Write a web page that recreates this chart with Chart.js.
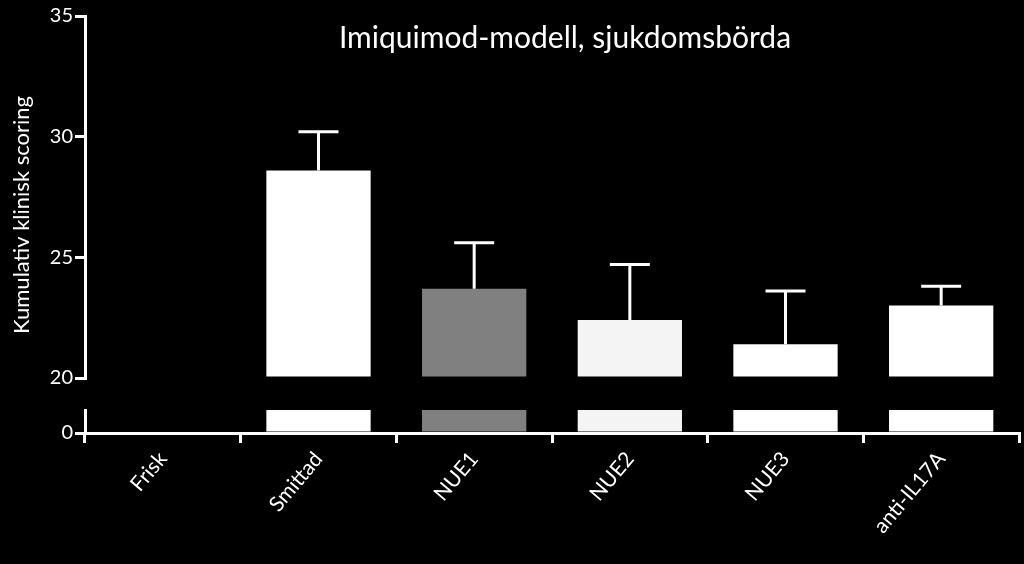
<!DOCTYPE html>
<html>
<head>
<meta charset="utf-8">
<script src="https://cdn.jsdelivr.net/npm/chart.js@4"></script>
<style>
  body { margin: 0; background: #000; width: 1024px; height: 564px; overflow: hidden; }
  #top { position: absolute; left: 0; top: 0; }
  #bottom { position: absolute; left: 0; top: 396px; }
</style>
</head>
<body>
<canvas id="top" width="1024" height="392"></canvas>
<canvas id="bottom" width="1024" height="168"></canvas>
<script>
const categories = ['Frisk', 'Smittad', 'NUE1', 'NUE2', 'NUE3', 'anti-IL17A'];
const means = [null, 28.6, 23.7, 22.4, 21.4, 23.0];
const errorTops = [null, 30.2, 25.6, 24.7, 23.6, 23.8];
const lowerValues = [null, 2, 2, 2, 2, 2];
const barColors = ['#ffffff', '#ffffff', '#808080', '#f4f4f4', '#ffffff', '#ffffff'];
const upperTicks = [20, 25, 30, 35];
const lowerTicks = [0, 2];

const FONT = 'Lato, "Open Sans", sans-serif';
Chart.defaults.font.family = FONT;
Chart.defaults.color = '#ffffff';
Chart.defaults.animation = false;

const axisWidth = 85;

const errorBars = {
  id: 'errorBars',
  afterDatasetsDraw(chart) {
    const { ctx } = chart;
    const meta = chart.getDatasetMeta(0);
    const y = chart.scales.y;
    ctx.save();
    ctx.strokeStyle = '#ffffff';
    ctx.lineWidth = 3;
    meta.data.forEach((bar, i) => {
      if (errorTops[i] == null) return;
      const x = bar.x;
      const yTop = y.getPixelForValue(errorTops[i]);
      ctx.beginPath();
      ctx.moveTo(x, bar.y);
      ctx.lineTo(x, yTop);
      ctx.moveTo(x - 20, yTop);
      ctx.lineTo(x + 20, yTop);
      ctx.stroke();
    });
    ctx.restore();
  }
};

const titleText = {
  id: 'titleText',
  afterDraw(chart) {
    const { ctx } = chart;
    ctx.save();
    ctx.fillStyle = '#ffffff';
    ctx.font = '30px ' + FONT;
    ctx.textAlign = 'center';
    ctx.textBaseline = 'middle';
    ctx.fillText('Imiquimod-modell, sjukdomsbörda', 565, 38);
    ctx.translate(22, 215);
    ctx.rotate(-Math.PI / 2);
    ctx.font = '22px ' + FONT;
    ctx.fillText('Kumulativ klinisk scoring', 0, 0);
    ctx.restore();
  }
};

function yAxis(min, max, ticks) {
  return {
    min: min, max: max,
    afterFit(scale) { scale.width = axisWidth; },
    afterBuildTicks(scale) { scale.ticks = ticks.map(v => ({ value: v })); },
    ticks: { font: { size: 20 }, color: '#ffffff', padding: 2 },
    grid: { drawOnChartArea: false, tickLength: 10, color: '#ffffff', lineWidth: 3 },
    border: { color: '#ffffff', width: 3 }
  };
}

new Chart(document.getElementById('top'), {
  type: 'bar',
  data: {
    labels: categories,
    datasets: [{ data: means, backgroundColor: barColors, barPercentage: 0.67, categoryPercentage: 1, base: 20 }]
  },
  options: {
    responsive: false,
    layout: { padding: { top: 16, bottom: 8, right: 5, left: 0 } },
    plugins: { legend: { display: false }, tooltip: { enabled: false } },
    scales: {
      x: { display: false },
      y: yAxis(20, 35, upperTicks)
    }
  },
  plugins: [errorBars, titleText]
});

new Chart(document.getElementById('bottom'), {
  type: 'bar',
  data: {
    labels: categories,
    datasets: [{ data: lowerValues, backgroundColor: barColors, barPercentage: 0.67, categoryPercentage: 1 }]
  },
  options: {
    responsive: false,
    layout: { padding: { top: 11, bottom: 0, right: 5, left: 0 } },
    plugins: { legend: { display: false }, tooltip: { enabled: false } },
    scales: {
      x: {
        afterFit(scale) { scale.height = 131; },
        ticks: { font: { size: 21 }, color: '#ffffff', minRotation: 50, maxRotation: 50, padding: 4 },
        grid: { drawOnChartArea: false, tickLength: 10, color: '#ffffff', lineWidth: 3 },
        border: { color: '#ffffff', width: 3 }
      },
      y: yAxis(0, 2, lowerTicks)
    }
  }
});
</script>
</body>
</html>
